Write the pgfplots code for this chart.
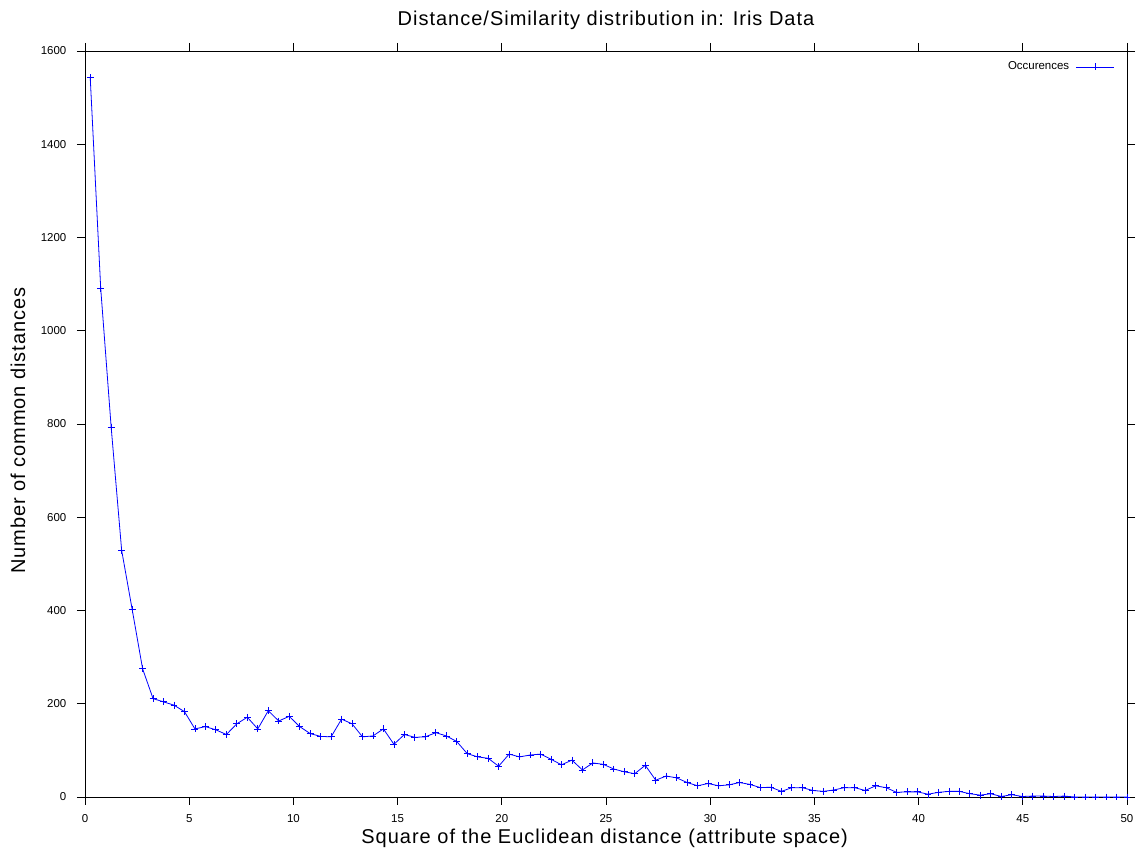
\documentclass[border=0pt]{standalone}
\usepackage{fontspec}
\setmainfont{Liberation Sans}
\newfontfamily\labelfont[LetterSpace=5]{Liberation Sans}
\newfontfamily\ylabelfont[LetterSpace=4.5]{Liberation Sans}
\usepackage{pgfplots}
\pgfplotsset{compat=1.18}
\begin{document}
\begin{tikzpicture}
\begin{axis}[
 at={(0,0)}, anchor=south west,
 scale only axis, width=781.5pt, height=559.5pt,
 xmin=0, xmax=50, ymin=0, ymax=1600,
 xtick={0,5,...,50}, ytick={0,200,...,1600},
 tick align=outside, major tick length=6pt,
 axis line style={line width=0.6pt},
 every tick/.style={line width=0.6pt, black},
 /pgf/number format/assume math mode=true,
 /pgf/number format/1000 sep={},
 scaled ticks=false,
 tick label style={font=\fontsize{8.6}{10}\selectfont},
 yticklabel style={xshift=-4.5pt},
 xticklabel style={yshift=-3.75pt},
 title={Distance/Similarity distribution in: Iris Data},
 title style={font=\labelfont\fontsize{15}{18}\selectfont, at={([yshift=13.1pt]rel axis cs:0.5,1)}, anchor=base},
 xlabel={Square of the Euclidean distance (attribute space)},
 xlabel style={font=\labelfont\fontsize{15}{18}\selectfont, at={([xshift=-1pt,yshift=-35.25pt]rel axis cs:0.5,0)}, anchor=base},
 ylabel={Number of common distances},
 ylabel style={font=\ylabelfont\fontsize{15}{18}\selectfont, at={([xshift=-50.25pt,yshift=-5pt]rel axis cs:0,0.5)}, anchor=center},
 legend style={draw=none, fill=none, at={([xshift=-6.25pt,yshift=-4pt]rel axis cs:1,1)}, anchor=north east, font=\fontsize{8.6}{10}\selectfont},
 legend plot pos=right,
 legend image code/.code={\path (0cm,0cm); \draw[#1,blue,mark repeat=2,mark phase=2] plot coordinates {(0.1cm,0cm)(0.6cm,0cm)(1.1cm,0cm)};},
]
\addplot[color=blue, line width=0.6pt, mark=+, mark size=2.6pt] table {
x y
0.251 1543
0.754 1091
1.256 793
1.759 529
2.261 403
2.764 275
3.266 211
3.769 204
4.271 197
4.774 183
5.276 146
5.779 151
6.281 144
6.784 134
7.286 157
7.789 171
8.291 146
8.794 185
9.296 163
9.799 173
10.301 151
10.804 136
11.306 130
11.809 129
12.311 167
12.814 157
13.316 129
13.819 131
14.321 146
14.824 113
15.326 134
15.829 128
16.331 129
16.834 138
17.336 131
17.839 119
18.341 93
18.844 86
19.346 83
19.849 66
20.351 92
20.854 86
21.356 90
21.859 92
22.361 81
22.864 69
23.366 79
23.869 58
24.371 73
24.874 70
25.376 60
25.879 54
26.381 50
26.884 68
27.386 36
27.889 45
28.391 41
28.894 31
29.396 24
29.899 29
30.401 24
30.904 26
31.406 31
31.909 27
32.411 20
32.914 21
33.416 12
33.919 20
34.421 20
34.924 14
35.426 12
35.929 15
36.431 20
36.934 20
37.436 14
37.939 24
38.441 20
38.944 10
39.446 11
39.949 11
40.451 6
40.954 10
41.456 12
41.959 12
42.461 7
42.964 4
43.466 7
43.969 1
44.471 5
44.974 1
45.476 2
45.979 2
46.481 1
46.984 2
47.486 0
47.989 0
48.491 0
48.994 0
49.496 0
49.999 0
};
\addlegendentry{Occurences}
\end{axis}
\pgfresetboundingbox
\path[use as bounding box] (-63.75pt,-43.5pt) rectangle (788.25pt,597.75pt);
\end{tikzpicture}
\end{document}
